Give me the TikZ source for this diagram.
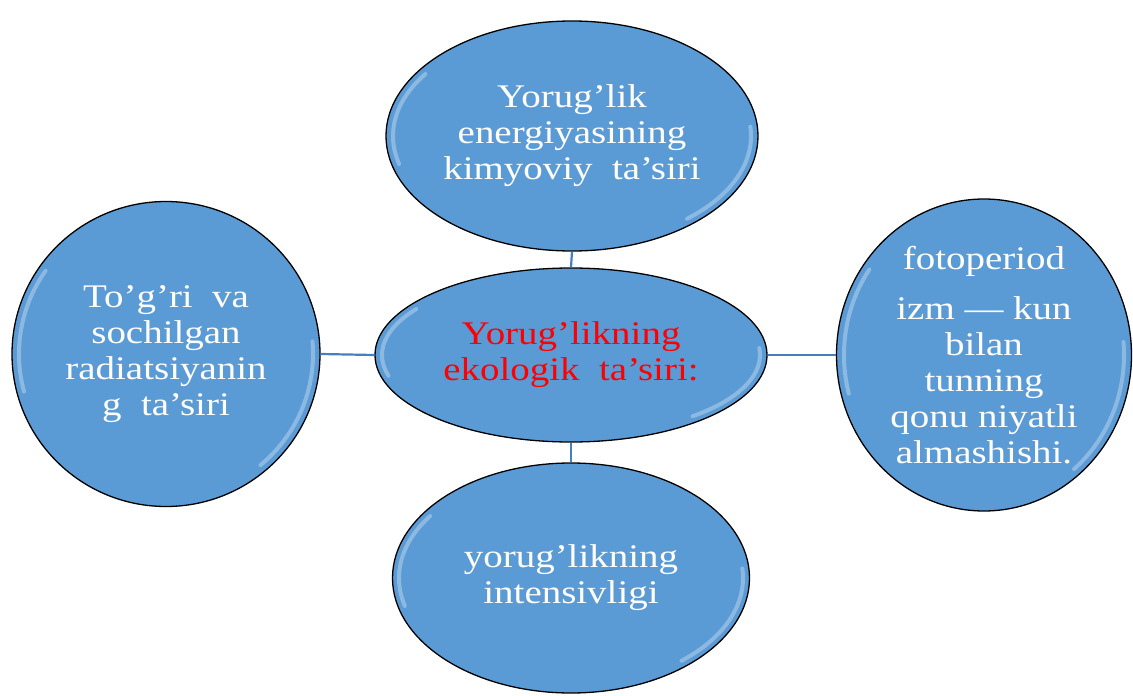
\documentclass[tikz,border=0pt]{standalone}
\usepackage{fontspec}
\setmainfont[FakeStretch=1.18]{Liberation Serif}
\usetikzlibrary{shapes.geometric}
\definecolor{bubbleblue}{RGB}{91,155,213}
\definecolor{linkblue}{RGB}{68,128,190}
\definecolor{titlered}{RGB}{255,0,0}

\begin{document}
\begin{tikzpicture}[x=1pt, y=-1pt,
    bubble/.style={ellipse, draw=black, line width=1.3pt, fill=bubbleblue, text=white,
        align=center, inner sep=0pt, font=\fontsize{33}{36}\selectfont,
        execute at begin node={\rule{0pt}{43pt}}},
    link/.style={draw=linkblue, line width=2.2pt},
    gloss/.style={white, opacity=0.3, line width=4pt, line cap=round}]
    \useasboundingbox (0,0) rectangle (1133,696);

    % Bubbles
    \node[bubble, minimum width=372pt, minimum height=230pt] (top) at (572,136)
        {Yorug’lik\\energiyasining\\kimyoviy\ \ ta’siri};
    \node[bubble, minimum width=392pt, minimum height=174pt, text=titlered] (hub) at (571,355)
        {Yorug’likning\\ekologik\ \ ta’siri:};
    \node[bubble, minimum width=357pt, minimum height=230pt] (bottom) at (571,578)
        {yorug’likning\\intensivligi};
    \node[bubble, minimum width=308pt, minimum height=305pt] (left) at (166,354)
        {To’g’ri\ \ va\\sochilgan\\radiatsiyanin\\g\ \ ta’siri};
    \node[bubble, minimum width=295pt, minimum height=312pt,
        execute at begin node={}] (right) at (984,355)
        {fotoperiod\\[14pt]izm — kun\\bilan\\tunning\\qonu niyatli\\almashishi.};

    % Gloss
    \foreach \n/\rx/\ry in {top/179/108, hub/189/80, bottom/172/108, left/147/145, right/140/149} {
        \draw[gloss] (\n.center) ++(145:\rx pt and \ry pt)
            arc[start angle=145, end angle=195, x radius=\rx pt, y radius=\ry pt];
        \draw[gloss] (\n.center) ++(-50:\rx pt and \ry pt)
            arc[start angle=-50, end angle=5, x radius=\rx pt, y radius=\ry pt];
    }

    % Links
    \draw[link] (top.south) -- (hub.north);
    \draw[link] (hub.south) -- (bottom.north);
    \draw[link] (left.east) -- (hub.west);
    \draw[link] (hub.east) -- (right.west);
\end{tikzpicture}
\end{document}
